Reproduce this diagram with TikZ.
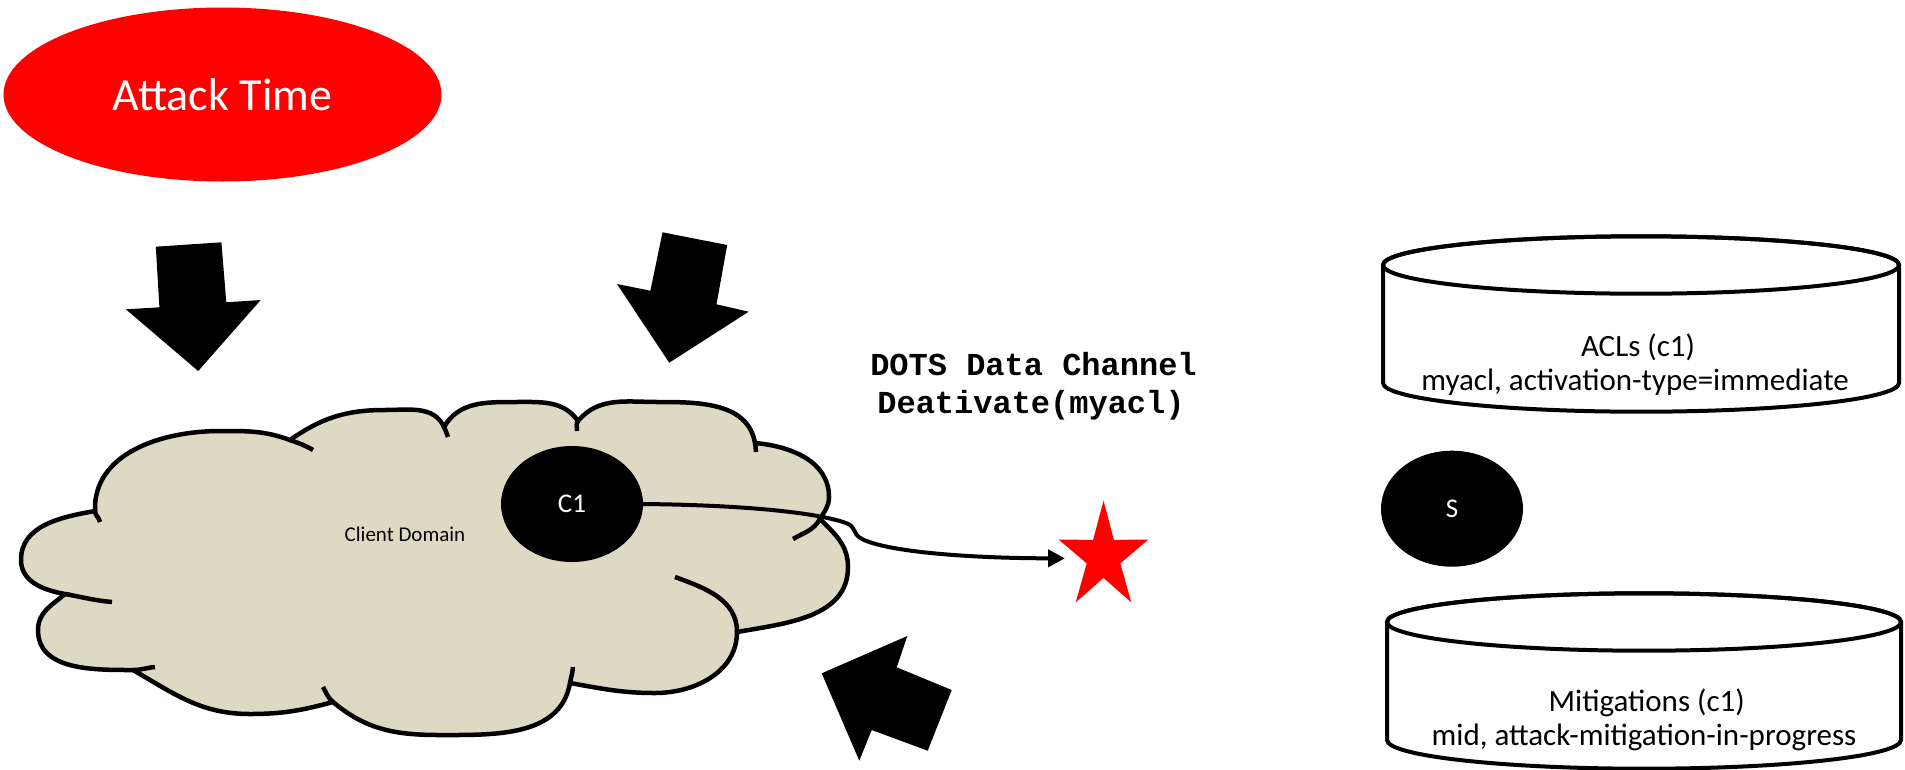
\documentclass[tikz,border=0pt]{standalone}
\usepackage{fontspec}
\setmainfont{Carlito}
\newfontfamily\dotsfont{Liberation Mono}
\usetikzlibrary{arrows.meta,shapes.geometric}
\definecolor{cloudbeige}{RGB}{221,217,195}
\definecolor{attackred}{RGB}{255,0,0}
\begin{document}
\begin{tikzpicture}[x=1pt,y=1pt,
  blob/.style={ellipse, fill=black, text=white, inner sep=0pt, minimum width=142pt, minimum height=116pt, font=\fontsize{27}{32}\selectfont},
  bigarrow/.style={fill=black},
  cloudline/.style={draw=black, line width=4.5pt},
  cyl/.style={draw=black, fill=white, line width=4pt},
  cyltext/.style={anchor=base, inner sep=0pt, font=\fontsize{31}{34}\selectfont},
  dotstext/.style={anchor=base, inner sep=0pt, font=\dotsfont\bfseries\fontsize{32}{38}\selectfont},
  conn/.style={line width=4pt, -{Triangle[length=17pt,width=17pt]}},
]
\useasboundingbox (0,0) rectangle (1905,-769);

% Attack Time
\node[ellipse, fill=attackred, text=white, minimum width=438pt, minimum height=174pt, inner sep=0pt, font=\fontsize{46}{55}\selectfont] (attack) at (222.5,-94.5) {Attack Time};

% big black arrows
\path[bigarrow] (155.8,-246.7) -- (221.4,-242.3) -- (226.3,-302.3) -- (260.7,-300) -- (198.2,-371) -- (125.9,-309.3) -- (159.4,-307.3) -- cycle;
\path[bigarrow] (662.5,-232.3) -- (727.2,-245) -- (716.5,-304.3) -- (748.7,-311.7) -- (669.2,-362.7) -- (617,-284) -- (650.4,-290.7) -- cycle;
\path[bigarrow] (821.7,-673.3) -- (907.3,-636) -- (896.7,-667.3) -- (951.7,-690) -- (927.7,-750.7) -- (871.7,-730) -- (859.3,-760.7) -- cycle;

% cloud
\path[cloudline, fill=cloudbeige] (95,-511) to[out=92,in=180] (220,-431) to[out=0,in=160] (290,-440)
 to[out=35,in=180] (385,-410) to[out=0,in=115] (444,-427)
 to[out=60,in=180] (515,-402) to[out=0,in=125] (578,-421)
 to[out=50,in=180] (658,-402) to[out=0,in=100] (755,-443)
 to[out=-5,in=90] (829,-497) to[out=-90,in=60] (820,-519)
 to[out=-45,in=90] (848,-567) to[out=-90,in=10] (737,-632)
 to[out=-90,in=0] (655,-693) to[out=180,in=-10] (570,-683)
 to[out=-100,in=0] (440,-735) to[out=180,in=-40] (333,-702)
 to[out=195,in=0] (250,-714) to[out=180,in=-30] (133,-670)
 to[out=180,in=-90] (38,-630) to[out=90,in=220] (65,-594)
 to[out=170,in=-90] (21,-560) to[out=90,in=190] (95,-511) -- cycle;
% inner hooks of the cloud
\draw[cloudline] (100,-522) to[out=100,in=-88] (95,-511);
\draw[cloudline] (290,-440) to[out=-20,in=150] (313,-450);
\draw[cloudline] (444,-427) to[out=-65,in=110] (448,-437);
\draw[cloudline] (577,-431) to[out=85,in=230] (578,-421);
\draw[cloudline] (755,-443) to[out=-80,in=95] (756,-452);
\draw[cloudline] (820,-519) to[out=240,in=30] (793,-539);
\draw[cloudline] (675,-577) to[out=-20,in=90] (737,-632);
\draw[cloudline] (573,-667) to[out=-95,in=80] (570,-683);
\draw[cloudline] (333,-702) to[out=140,in=-60] (323,-687);
\draw[cloudline] (155,-667) to[out=185,in=0] (133,-670);
\draw[cloudline] (112,-602) to[out=175,in=-10] (65,-594);

\node[anchor=base, inner sep=0pt, font=\fontsize{21}{25}\selectfont] (domain) at (405,-541) {Client Domain};

% client
\node[blob] (c1) at (572,-504) {C1};

% star
\fill[attackred] (1103.5,-500.7) -- (1113.9,-539.9) -- (1148.4,-539.5) -- (1120.3,-563.4) -- (1131.3,-602.4)
  -- (1103.5,-577.9) -- (1075.7,-602.4) -- (1086.7,-563.4) -- (1058.6,-539.5) -- (1093.1,-539.9) -- cycle;
\coordinate (tip) at (1065,-558.3);

% connector
\draw[conn] (c1.east) .. controls (740,-505) and (815,-512) .. (846,-523)
  .. controls (857,-527) and (852,-534) .. (862,-539)
  .. controls (890,-553) and (980,-558.3) .. (tip);

\node[dotstext] (dots1) at (1033.5,-375) {DOTS Data Channel};
\node[dotstext] (dots2) at (1031,-413) {Deativate(myacl)};

% ACL cylinder
\path[cyl] (1383,-265) -- (1383,-383) arc[start angle=180, end angle=360, x radius=258, y radius=28.7]
  -- (1899,-265) arc[start angle=0, end angle=180, x radius=258, y radius=28.7] -- cycle;
\draw[line width=4pt] (1641,-265) ellipse[x radius=258, y radius=28.7];
\node[cyltext] (acl1) at (1638,-356) {ACLs (c1)};
\node[cyltext] (acl2) at (1635,-390) {myacl, activation-type=immediate};

% server
\node[blob] (s) at (1452,-508.7) {S};

% Mitigations cylinder
\path[cyl] (1387,-622) -- (1387,-740) arc[start angle=180, end angle=360, x radius=257, y radius=28.7]
  -- (1901,-622) arc[start angle=0, end angle=180, x radius=257, y radius=28.7] -- cycle;
\draw[line width=4pt] (1644,-622) ellipse[x radius=257, y radius=28.7];
\node[cyltext] (mit1) at (1646.7,-711.7) {Mitigations (c1)};
\node[cyltext] (mit2) at (1644,-745.7) {mid, attack-mitigation-in-progress};
\end{tikzpicture}
\end{document}
